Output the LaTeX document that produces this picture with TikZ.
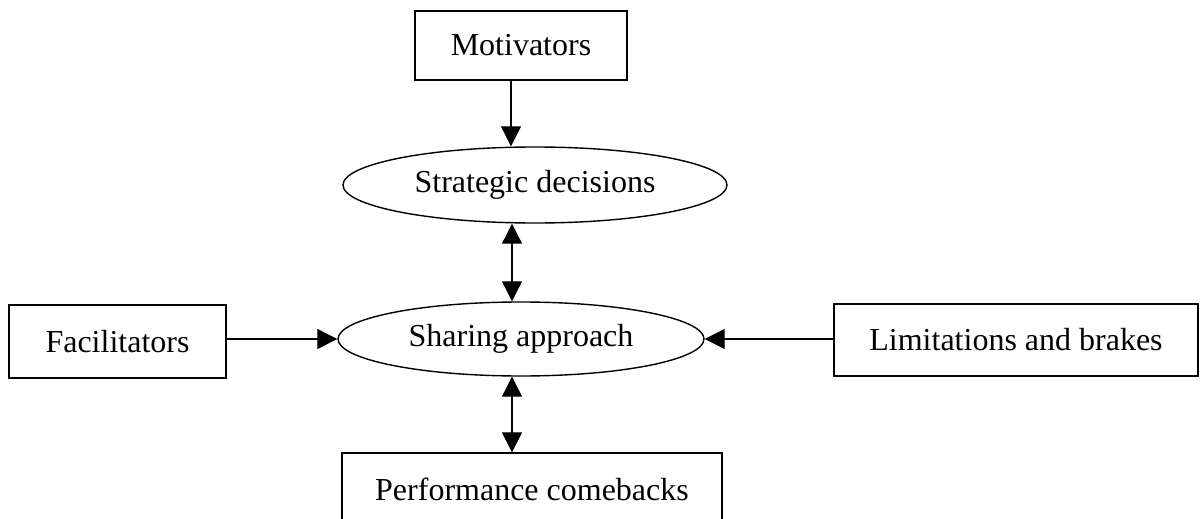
\documentclass[tikz,border=0pt]{standalone}
\usepackage{fontspec}
\setmainfont{Liberation Serif}
\usetikzlibrary{arrows.meta,shapes.geometric}
\begin{document}
\begin{tikzpicture}[x=1pt,y=-1pt,
  every node/.style={font=\fontsize{32}{38}\selectfont, inner sep=0pt},
  boxnode/.style={draw, rectangle, line width=1.3pt},
  ellnode/.style={draw, ellipse, line width=1.4pt},
  arr/.style={line width=1.1pt, -{Triangle[length=20pt,width=20pt]}},
  darr/.style={line width=1.1pt, {Triangle[length=20pt,width=20pt]}-{Triangle[length=20pt,width=20pt]}}]
\clip (0,0) rectangle (1200,519);
\useasboundingbox (0,0) rectangle (1200,519);
\node[boxnode, minimum width=212pt, minimum height=69pt] (mot) at (521,45.5) {Motivators};
\node[ellnode, minimum width=384pt, minimum height=76pt] (strat) at (535,185) {Strategic decisions};
\node[ellnode, minimum width=366pt, minimum height=74pt] (share) at (521,339) {Sharing approach};
\node[boxnode, minimum width=217pt, minimum height=73pt] (fac) at (117.5,341.5) {Facilitators};
\node[boxnode, minimum width=364pt, minimum height=72pt] (lim) at (1016,340) {Limitations and brakes};
\node[boxnode, minimum width=380pt, minimum height=72pt] (perf) at (532,489) {Performance comebacks};
\coordinate (ax) at (511,0);
\coordinate (bx) at (512,0);
\draw[arr] (mot.south -| ax) -- (strat.north -| ax);
\draw[darr] (strat.south -| bx) -- (share.north -| bx);
\draw[arr] (fac.east |- share.west) -- (share.west);
\draw[arr] (lim.west |- share.east) -- (share.east);
\draw[darr] (share.south -| bx) -- (perf.north -| bx);
\end{tikzpicture}
\end{document}
